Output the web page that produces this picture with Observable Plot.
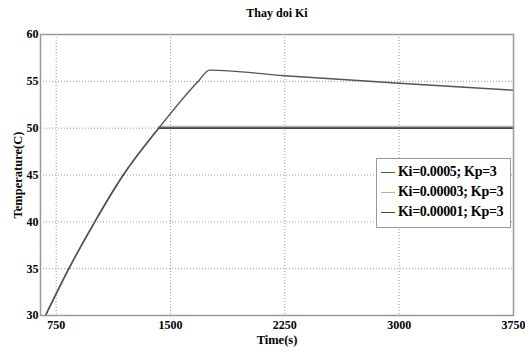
<!DOCTYPE html>
<html><head><meta charset="utf-8">
<script src="https://cdn.jsdelivr.net/npm/d3@7"></script>
<script src="https://cdn.jsdelivr.net/npm/@observablehq/plot@0.6"></script>
<style>
body{margin:0;background:#fff;}
#wrap{position:relative;width:525px;height:347px;font-family:'Liberation Serif','Times New Roman',serif;}
#legend{position:absolute;left:376px;top:158px;width:135px;height:70px;border:1px solid #999;background:#fff;box-sizing:border-box;padding-top:3px;}
.row{display:flex;align-items:center;height:20px;font-weight:bold;font-size:14px;letter-spacing:-0.3px;}
.sw{width:14px;height:0;margin:0 3px 0 4px;}
</style></head>
<body><div id="wrap"></div>
<script>
const seriesNames = ["Ki=0.0005; Kp=3", "Ki=0.00003; Kp=3", "Ki=0.00001; Kp=3"];
const seriesColors = ["#555555", "#b0b0b0", "#444444"];
// shared heating phase
const riseTime = [680, 833, 1003, 1190, 1423];
const riseTemp = [30, 35, 40, 45, 50];
// after reaching 50 C
const s1Time = [1682, 1756, 2250, 3000, 3750];
const s1Temp = [55, 56.2, 55.6, 54.8, 54.05];
const s2Time = [1423, 2250, 3000, 3750];
const s2Temp = [50.15, 50.15, 50.15, 50.15];
const s3Time = [1423, 2250, 3000, 3750];
const s3Temp = [50.0, 50.0, 50.0, 50.0];
const xTicks = [750, 1500, 2250, 3000, 3750];
const yTicks = [30, 35, 40, 45, 50, 55, 60];

const rows = (name, ts, vs) => ts.map((t, i) => ({s: name, t, v: vs[i]}));
const riseA = rows(seriesNames[0], riseTime, riseTemp);
const riseC = rows(seriesNames[2], riseTime, riseTemp);
const d1 = [...riseA, ...rows(seriesNames[0], s1Time, s1Temp)];
const d2flat = rows(seriesNames[1], s2Time, s2Temp);
const d3flat = rows(seriesNames[2], s3Time, s3Temp);

const font = "'Liberation Serif','Times New Roman',serif";
const chart = Plot.plot({
  width: 525, height: 347,
  marginLeft: 40, marginRight: 12, marginTop: 34, marginBottom: 32,
  style: {fontFamily: font, fontWeight: "bold", fontSize: "12px", background: "#fff"},
  x: {domain: [647, 3750], ticks: xTicks, tickFormat: d => String(d), tickSize: 0, tickPadding: 5, label: "Time(s)", labelAnchor: "center", labelArrow: "none", labelOffset: 28},
  y: {domain: [30, 60], ticks: yTicks, tickFormat: d => String(d), tickSize: 0, tickPadding: 2, label: "Temperature(C)", labelAnchor: "center", labelArrow: "none", labelOffset: 27},
  color: {domain: seriesNames, range: seriesColors},
  marks: [
    Plot.gridX(xTicks, {stroke: "#999", strokeOpacity: 1, strokeDasharray: "1,2"}),
    Plot.gridY(yTicks, {stroke: "#999", strokeOpacity: 1, strokeDasharray: "1,2"}),
    Plot.line(d2flat, {x: "t", y: "v", stroke: "s", strokeWidth: 1.8}),
    Plot.line(d3flat, {x: "t", y: "v", stroke: "s", strokeWidth: 1.6}),
    Plot.line(riseC, {x: "t", y: "v", stroke: "s", strokeWidth: 1.4, curve: "monotone-x"}),
    Plot.line(d1, {x: "t", y: "v", stroke: "s", strokeWidth: 1.4, curve: "monotone-x"}),
    Plot.frame({stroke: "#999", strokeWidth: 1.5})
  ]
});
const wrap = document.getElementById("wrap");
wrap.appendChild(chart);
d3.select(chart).selectAll("text").style("font-family", font);
d3.select(chart).selectAll("[aria-label='y-axis label'] text, [aria-label='x-axis label'] text")
  .style("font-size", "12.5px");
d3.select(chart).append("text")
  .attr("x", 277).attr("y", 17).attr("text-anchor", "middle")
  .style("font-family", font).attr("font-weight", "bold").attr("font-size", "12px")
  .text("Thay doi Ki");

const leg = document.createElement("div");
leg.id = "legend";
seriesNames.forEach((n, i) => {
  const r = document.createElement("div");
  r.className = "row";
  const sw = document.createElement("span");
  sw.className = "sw";
  sw.style.borderTop = "1.5px solid " + seriesColors[i];
  r.appendChild(sw);
  r.appendChild(document.createTextNode(n));
  leg.appendChild(r);
});
wrap.appendChild(leg);
</script></body></html>
